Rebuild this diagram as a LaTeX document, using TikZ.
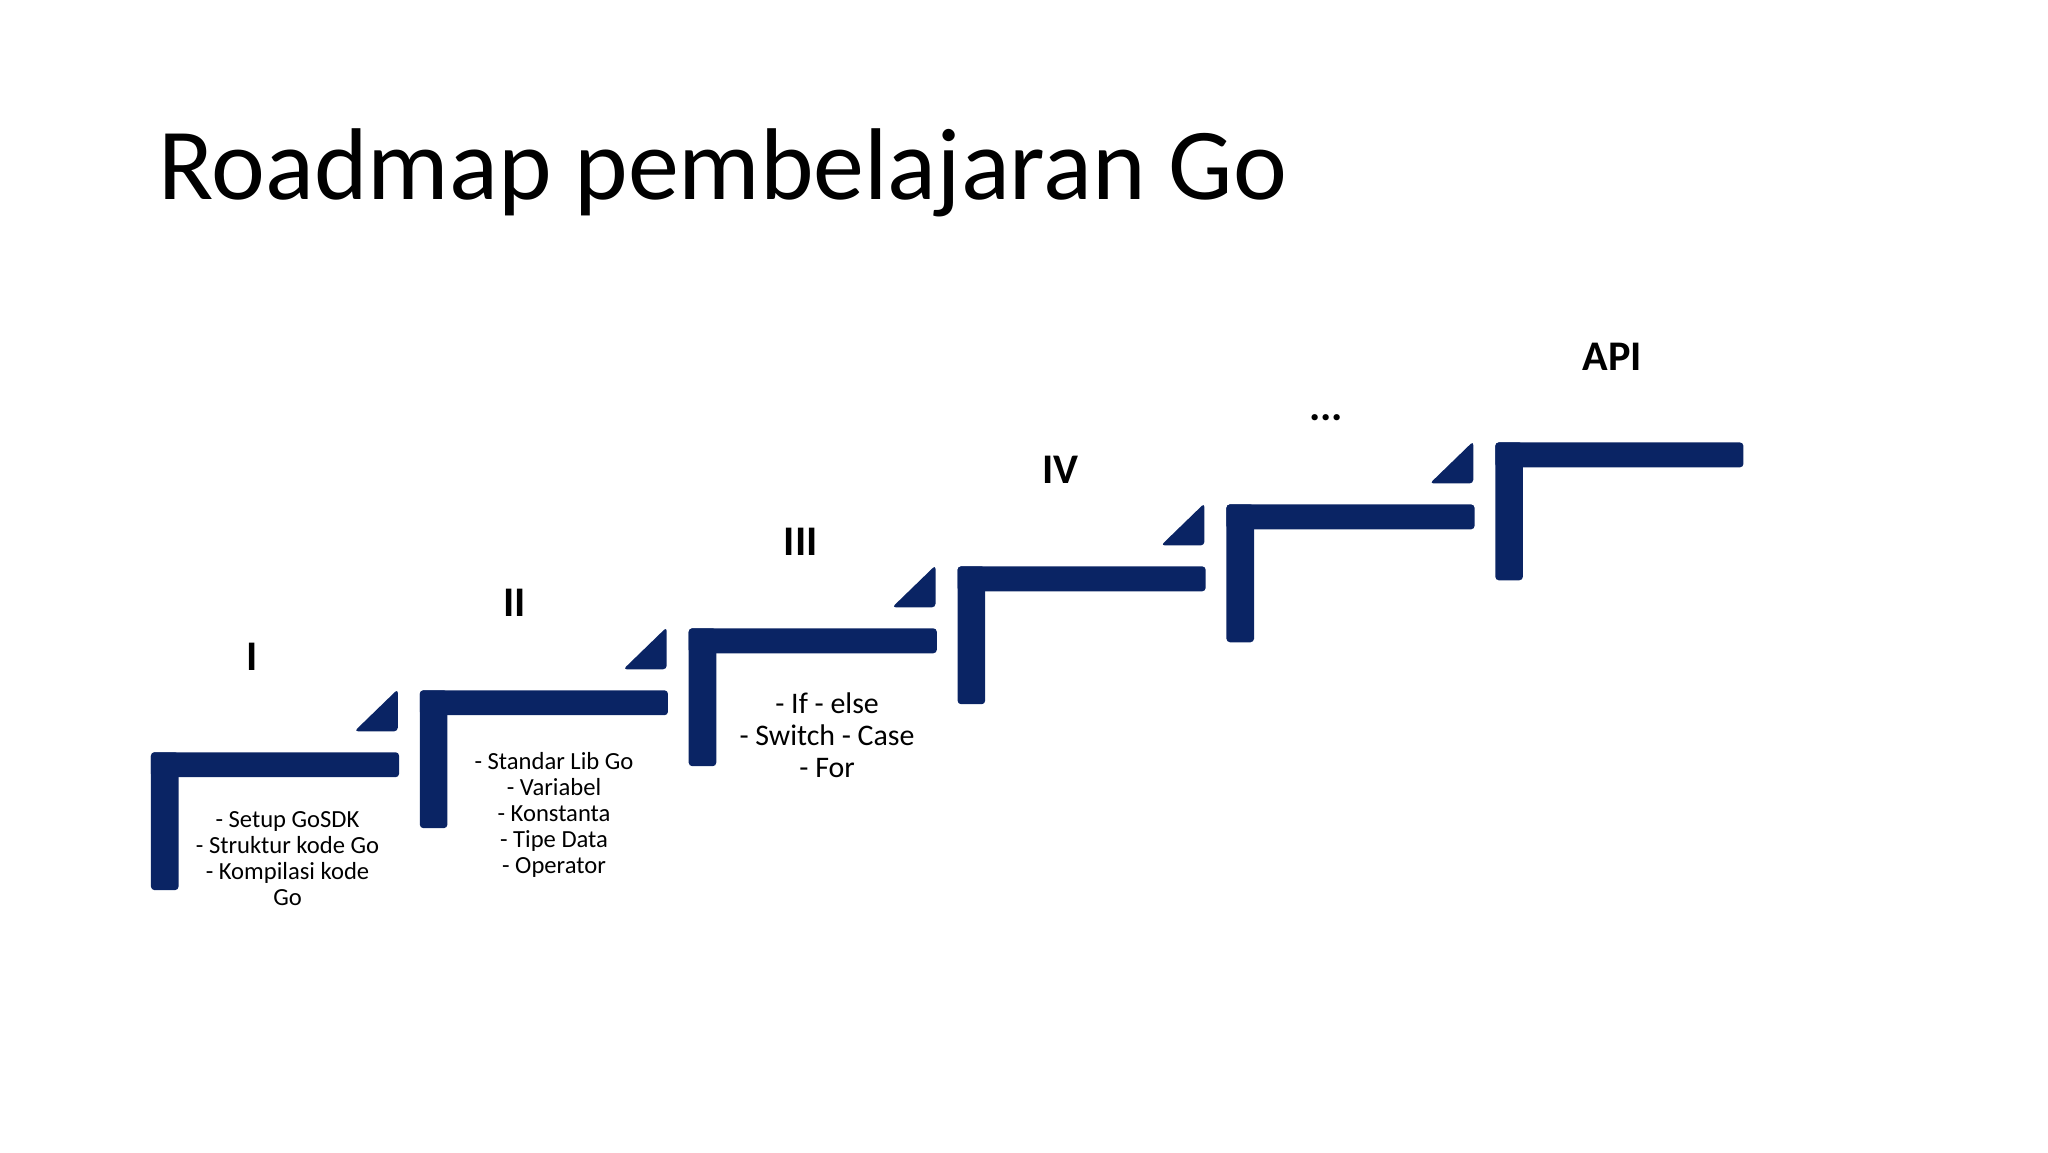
\documentclass[tikz,border=0pt]{standalone}
\usepackage{fontspec}
\setmainfont{Carlito}
\definecolor{navy}{RGB}{10,36,100}
\begin{document}
\begin{tikzpicture}[x=0.01313cm,y=-0.01313cm,
  lab/.style={font=\bfseries\fontsize{12}{14}\selectfont,anchor=center},
  body/.style={align=center,font=\fontsize{7}{7.4}\selectfont,anchor=center}]
\useasboundingbox (0,0) rectangle (1560,877.5);
\node[anchor=base west,inner sep=0,font=\fontsize{29}{34}\selectfont] (title) at (120,152) {Roadmap pembelajaran Go};
\foreach \i in {0,1,2,3,4,5}{
  \pgfmathsetmacro\xx{115+204.8*\i}
  \pgfmathsetmacro\yy{573-47.2*\i}
  \fill[navy,rounded corners=1pt] (\xx,\yy) rectangle ++(189,19);
  \fill[navy,rounded corners=1pt] (\xx,\yy) rectangle ++(21,105);
  \ifnum\i<5
    \fill[navy,rounded corners=1pt] (\xx+155,\yy-16) -- (\xx+188,\yy-48) -- (\xx+188,\yy-16) -- cycle;
  \fi
}
\node[lab] (l1) at (192,500) {I};
\node[lab] (l2) at (392,459) {II};
\node[lab] (l3) at (610,413) {III};
\node[lab] (l4) at (808,358) {IV};
\node[lab] (l5) at (1010,318) {...};
\node[lab] (l6) at (1228,272) {API};
\node[body] (t1) at (219,654) {- Setup GoSDK\\- Struktur kode Go\\- Kompilasi kode\\Go};
\node[body] (t2) at (422,621) {- Standar Lib Go\\- Variabel\\- Konstanta\\- Tipe Data\\- Operator};
\node[body,font=\fontsize{8.5}{9}\selectfont] (t3) at (630,560) {- If - else\\- Switch - Case\\- For};
\end{tikzpicture}
\end{document}
